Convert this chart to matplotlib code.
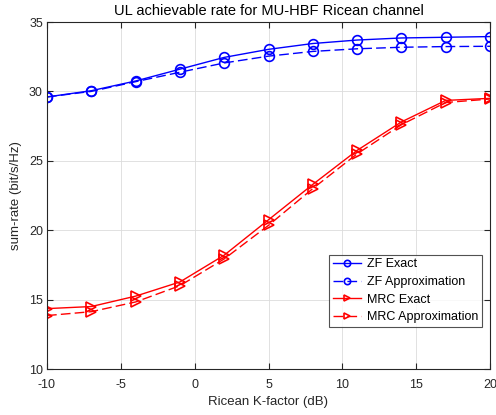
import matplotlib
matplotlib.use("Agg")
import matplotlib.pyplot as plt

k_db = [-10, -7, -4, -1, 2, 5, 8, 11, 14, 17, 20]
zf_exact = [29.6, 30.05, 30.75, 31.6, 32.45, 33.03, 33.45, 33.7, 33.85, 33.9, 33.95]
zf_approx = [29.6, 30.0, 30.7, 31.38, 32.05, 32.54, 32.88, 33.07, 33.18, 33.23, 33.25]
mrc_exact = [14.35, 14.5, 15.25, 16.27, 18.2, 20.75, 23.3, 25.75, 27.8, 29.35, 29.5]
mrc_approx = [13.85, 14.13, 14.83, 16.0, 17.93, 20.35, 23.0, 25.5, 27.6, 29.2, 29.45]

plt.rcParams['font.family'] = ['Liberation Sans', 'DejaVu Sans']
plt.rcParams['axes.unicode_minus'] = False

fig = plt.figure(figsize=(4.96, 4.15), dpi=100)
ax = fig.add_axes([47/496, 1-369/415, (490-47)/496, (369-22)/415])

ms = 7
dash = (7, 3)
ax.plot(k_db, zf_exact, '-', color='#0000ff', marker='o', mfc='none', ms=ms, mew=1.2, lw=1, label='ZF Exact')
ax.plot(k_db, zf_approx, '--', dashes=dash, color='#0000ff', marker='o', mfc='none', ms=ms, mew=1.2, lw=1, label='ZF Approximation')
ax.plot(k_db, mrc_exact, '-', color='#ff0000', marker='>', mfc='none', ms=ms, mew=1.2, lw=1, label='MRC Exact')
ax.plot(k_db, mrc_approx, '--', dashes=dash, color='#ff0000', marker='>', mfc='none', ms=ms, mew=1.2, lw=1, label='MRC Approximation')

ax.set_xlim(-10, 20)
ax.set_ylim(10, 35)
ax.set_xticks([-10, -5, 0, 5, 10, 15, 20])
ax.set_yticks([10, 15, 20, 25, 30, 35])
ax.grid(True, color='#dcdcdc', lw=0.6)
ax.set_axisbelow(True)
ax.tick_params(direction='in', top=True, right=True, labelsize=9, colors='#262626', length=4)
ax.tick_params(axis='x', pad=7)
ax.tick_params(axis='y', pad=3)
for s in ax.spines.values():
    s.set_color('#262626')
    s.set_linewidth(0.8)
ax.set_xlabel('Ricean K-factor (dB)', fontsize=9.5, color='#262626', labelpad=4)
ax.set_ylabel('sum-rate (bit/s/Hz)', fontsize=9.5, color='#262626', labelpad=5)
ax.set_title('UL achievable rate for MU-HBF Ricean channel', fontsize=10.5, color='#000000', pad=5)

leg = ax.legend(loc='lower right', bbox_to_anchor=(0.982, 0.121), fontsize=9, frameon=True, fancybox=False,
                edgecolor='#262626', handlelength=2.2, borderpad=0.3, labelspacing=0.45, handletextpad=0.5,
                markerscale=0.65, borderaxespad=0)
leg.get_frame().set_linewidth(0.8)

fig.savefig('out.png', dpi=100)
